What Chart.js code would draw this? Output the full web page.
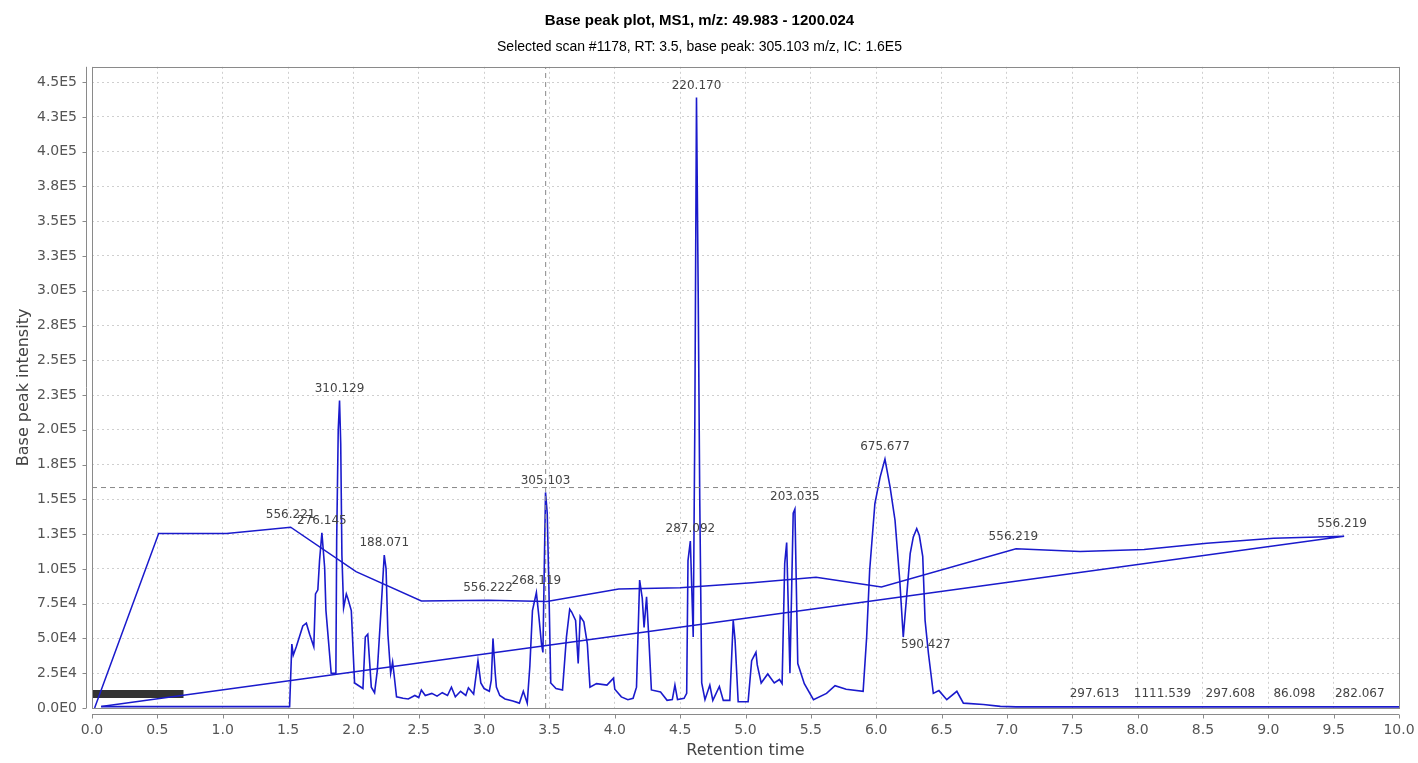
<!DOCTYPE html>
<html>
<head>
<meta charset="utf-8">
<script src="https://cdn.jsdelivr.net/npm/chart.js@4.4.0/dist/chart.umd.min.js"></script>
<style>
  body { margin: 0; background: #fff; }
  canvas { display: block; }
</style>
</head>
<body>
<canvas id="bpc" width="1418" height="763"></canvas>
<script>
// axis tick labels
var xTickLabels = ['0.0','0.5','1.0','1.5','2.0','2.5','3.0','3.5','4.0','4.5','5.0','5.5','6.0','6.5','7.0','7.5','8.0','8.5','9.0','9.5','10.0'];
var yTickLabels = ['0.0E0','2.5E4','5.0E4','7.5E4','1.0E5','1.3E5','1.5E5','1.8E5','2.0E5','2.3E5','2.5E5','2.8E5','3.0E5','3.3E5','3.5E5','3.8E5','4.0E5','4.3E5','4.5E5'];

// overview line (survey scans) incl. the return stroke back to start
var surveyRT  = [0.02, 0.51, 1.03, 1.52, 2.02, 2.52, 3.03, 3.48, 4.03, 4.50, 5.05, 5.54, 6.04, 7.07, 7.56, 8.05, 8.53, 9.04, 9.58, 0.07];
var surveyInt = [0, 125500, 125500, 130000, 98000, 77000, 77500, 76500, 85500, 86500, 90000, 94000, 87000, 114500, 112500, 114000, 118500, 122000, 123500, 1000];

// base peak trace
var traceRT = [0.07, 1.512, 1.529, 1.54, 1.563, 1.613, 1.64, 1.665, 1.697, 1.71, 1.728, 1.741, 1.759, 1.78, 1.79, 1.83, 1.856,
  1.866, 1.872, 1.884, 1.894, 1.903, 1.912, 1.925, 1.946, 1.957, 1.984, 2.009, 2.073, 2.091, 2.11, 2.137, 2.162, 2.183, 2.213,
  2.236, 2.25, 2.264, 2.285, 2.30, 2.31, 2.33, 2.38, 2.42, 2.47, 2.50, 2.52, 2.55, 2.60, 2.64, 2.68, 2.72, 2.75, 2.78, 2.82,
  2.86, 2.88, 2.92, 2.953, 2.975, 3.0, 3.04, 3.055, 3.068, 3.085, 3.094, 3.12, 3.16, 3.22, 3.27, 3.30, 3.33, 3.35, 3.37, 3.40,
  3.42, 3.439, 3.45, 3.462, 3.47, 3.483, 3.495, 3.51, 3.55, 3.60, 3.63, 3.655, 3.67, 3.70, 3.72, 3.735, 3.763, 3.79, 3.81, 3.86,
  3.94, 3.99, 4.0, 4.05, 4.10, 4.14, 4.166, 4.19, 4.21, 4.224, 4.243, 4.26, 4.28, 4.35, 4.40, 4.44, 4.46, 4.48, 4.53, 4.55,
  4.56, 4.578, 4.60, 4.612, 4.625, 4.638, 4.65, 4.665, 4.69, 4.727, 4.75, 4.80, 4.83, 4.88, 4.906, 4.92, 4.944, 5.02, 5.047,
  5.08, 5.09, 5.12, 5.17, 5.22, 5.26, 5.28, 5.30, 5.315, 5.34, 5.365, 5.378, 5.40, 5.45, 5.52, 5.62, 5.685, 5.77, 5.90, 5.927,
  5.95, 5.99, 6.03, 6.067, 6.106, 6.144, 6.18, 6.207, 6.23, 6.26, 6.284, 6.31, 6.33, 6.356, 6.374, 6.40, 6.437, 6.48, 6.54,
  6.617, 6.667, 6.82, 6.95, 7.07, 10.0];
var traceInt = [1000, 1000, 46000, 38000, 44000, 59000, 61000, 53000, 44000, 82000, 85000, 106000, 126000, 101000, 70000, 25000, 25000,
  25000, 120000, 200000, 221000, 190000, 110000, 72000, 82000, 79000, 70000, 18000, 14000, 51000, 53000, 15000, 11000, 27000, 73000,
  110000, 100000, 53000, 25000, 33000, 25000, 8000, 7000, 6500, 9000, 7500, 13000, 9000, 10500, 8500, 11000, 9000, 15000, 8000, 12000,
  9000, 14500, 10000, 34000, 18000, 14000, 12000, 20000, 50000, 25000, 15000, 9000, 6500, 5000, 3500, 12000, 3500, 30000, 70000, 83000,
  65000, 46000, 40000, 110000, 155000, 140000, 90000, 18000, 14000, 13000, 51000, 71000, 69000, 63000, 32000, 66000, 62000, 46000, 15000, 17500,
  16500, 21500, 13500, 8000, 6000, 7000, 15000, 92000, 79000, 58000, 80000, 51000, 13000, 11500, 5500, 6000, 16500, 6000, 7000, 10500,
  106000, 120000, 51000, 200000, 439000, 300000, 150000, 18000, 6000, 16500, 5500, 15500, 5500, 5500, 63000, 49000, 4500, 4500, 34000,
  40000, 31000, 18000, 24500, 18000, 20500, 17500, 104000, 119000, 25000, 140000, 143000, 32000, 17500, 6000, 10500, 16000, 13500, 12000, 51000,
  99000, 147000, 166000, 179000, 159000, 135000, 92000, 51000, 77000, 111000, 123000, 129000, 124000, 109000, 63000, 39000, 10500, 12500, 6000,
  12000, 3500, 2500, 1200, 800, 800];

// peak annotations (m/z)
var peakText = ['310.129','556.221','276.145','188.071','556.222','268.119','305.103','287.092','220.170','203.035','675.677','590.427','556.219','556.219','297.613','1111.539','297.608','86.098','282.067'];
var peakRT   = [1.894, 1.52, 1.759, 2.236, 3.03, 3.40, 3.47, 4.578, 4.625, 5.378, 6.067, 6.38, 7.05, 9.565, 7.67, 8.19, 8.71, 9.20, 9.70];
var peakInt  = [221000, 130000, 126000, 110000, 77500, 83000, 155000, 120000, 439000, 143000, 179000, 36500, 114500, 124000, 1400, 1400, 1400, 1400, 1400];

// selected scan crosshair
var selRT = 3.471;
var selIC = 158500;
var yMax = 461000;

function pts(xs, ys) { return xs.map(function (x, i) { return { x: x, y: ys[i] }; }); }

var blue = '#1a1acc';

var decor = {
  id: 'decor',
  afterDatasetsDraw: function (chart) {
    var c = chart.ctx, xs = chart.scales.x, ys = chart.scales.y;
    c.save();
    c.font = '12px "DejaVu Sans"';
    c.fillStyle = '#444';
    c.textAlign = 'center';
    c.textBaseline = 'middle';
    for (var i = 0; i < peakText.length; i++) {
      c.fillText(peakText[i], xs.getPixelForValue(peakRT[i]), ys.getPixelForValue(peakInt[i]) - 12);
    }
    c.restore();
  },
  afterDraw: function (chart) {
    var c = chart.ctx, a = chart.chartArea, xs = chart.scales.x, ys = chart.scales.y;
    c.save();
    c.strokeStyle = '#8a8a8a';
    c.lineWidth = 1;
    c.strokeRect(Math.round(a.left) + 0.5, Math.round(a.top) + 0.5, Math.round(a.right - a.left), Math.round(a.bottom - a.top));
    // offset axis lines with tick marks
    var ax = Math.round(a.left) - 6 + 0.5;
    c.beginPath();
    c.moveTo(ax, a.top); c.lineTo(ax, a.bottom);
    ys.ticks.forEach(function (t) {
      var py = Math.round(ys.getPixelForValue(t.value)) + 0.5;
      c.moveTo(ax - 4, py); c.lineTo(ax, py);
    });
    var ay = Math.round(a.bottom) + 6 + 0.5;
    c.moveTo(a.left, ay); c.lineTo(a.right, ay);
    xs.ticks.forEach(function (t) {
      var px = Math.round(xs.getPixelForValue(t.value)) + 0.5;
      c.moveTo(px, ay); c.lineTo(px, ay + 4);
    });
    c.stroke();
    c.restore();
  }
};

new Chart(document.getElementById('bpc'), {
  type: 'line',
  data: {
    datasets: [
      { data: [{ x: selRT, y: 0 }, { x: selRT, y: yMax }], borderColor: '#888', borderWidth: 1, borderDash: [5, 4] },
      { data: [{ x: 0, y: selIC }, { x: 10, y: selIC }], borderColor: '#888', borderWidth: 1, borderDash: [5, 4] },
      { data: pts(surveyRT, surveyInt), borderColor: blue, borderWidth: 1.5 },
      { data: pts(traceRT, traceInt), borderColor: blue, borderWidth: 1.6 },
      // overlapped labels near start render as a dark block
      { data: [{ x: 0, y: 10000 }, { x: 0.70, y: 10000 }], borderColor: '#333', borderWidth: 8, borderCapStyle: 'butt' }
    ]
  },
  options: {
    responsive: false,
    animation: false,
    parsing: false,
    elements: { point: { radius: 0 }, line: { tension: 0, fill: false } },
    layout: { padding: { left: 0, right: 19, top: 0, bottom: 0 } },
    plugins: {
      legend: { display: false },
      tooltip: { enabled: false },
      title: {
        display: true,
        text: 'Base peak plot, MS1, m/z: 49.983 - 1200.024',
        color: '#000',
        font: { family: '"Liberation Sans", Arial', size: 15, weight: 'bold' },
        padding: { top: 12, bottom: 5 }
      },
      subtitle: {
        display: true,
        text: 'Selected scan #1178, RT: 3.5, base peak: 305.103 m/z, IC: 1.6E5',
        color: '#000',
        font: { family: '"Liberation Sans", Arial', size: 14 },
        padding: { top: 4, bottom: 11 }
      }
    },
    scales: {
      x: {
        type: 'linear',
        min: 0,
        max: 10,
        afterBuildTicks: function (s) { s.ticks = xTickLabels.map(function (l) { return { value: parseFloat(l) }; }); },
        afterFit: function (s) { s.height = 55; s.paddingRight = 0; s.paddingLeft = 0; },
        ticks: {
          autoSkip: false,
          maxRotation: 0,
          padding: 14,
          color: '#555',
          font: { family: '"DejaVu Sans"', size: 14 },
          callback: function (v, i) { return xTickLabels[i]; }
        },
        grid: { color: '#cfcfcf', drawTicks: false },
        border: { display: false, dash: [2, 3] },
        title: {
          display: true,
          text: 'Retention time',
          color: '#444',
          font: { family: '"DejaVu Sans"', size: 16 },
          padding: { top: 0, bottom: 3 }
        }
      },
      y: {
        type: 'linear',
        min: 0,
        max: yMax,
        afterBuildTicks: function (s) { s.ticks = yTickLabels.map(function (l, i) { return { value: i * 25000 }; }); },
        afterFit: function (s) { s.width = 92; },
        ticks: {
          autoSkip: false,
          padding: 15,
          color: '#555',
          font: { family: '"DejaVu Sans"', size: 14 },
          callback: function (v, i) { return yTickLabels[i]; }
        },
        grid: { color: '#cfcfcf', drawTicks: false },
        border: { display: false, dash: [2, 3] },
        title: {
          display: true,
          text: 'Base peak intensity',
          color: '#444',
          font: { family: '"DejaVu Sans"', size: 16 },
          padding: { top: 14, bottom: 0 }
        }
      }
    }
  },
  plugins: [decor]
});
</script>
</body>
</html>
